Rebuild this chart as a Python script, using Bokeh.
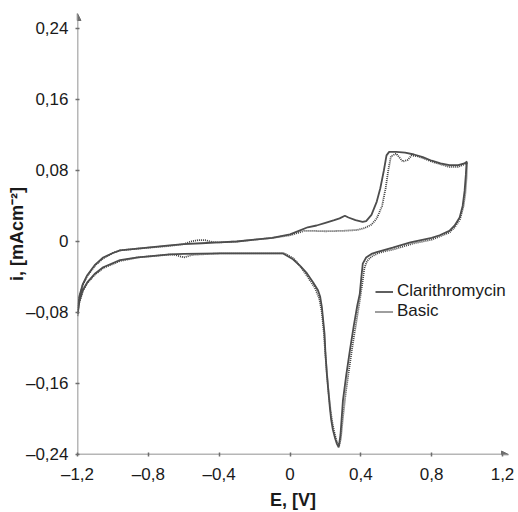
from bokeh.plotting import figure
from bokeh.models import (Range1d, FixedTicker, Arrow, NormalHead,
                          Legend, LegendItem)
from bokeh.embed import file_html
from bokeh.resources import INLINE

# ---------------- data ----------------
x_ticks = [-1.2, -0.8, -0.4, 0, 0.4, 0.8, 1.2]
x_tick_labels = ["–1,2", "–0,8", "–0,4", "0", "0,4", "0,8", "1,2"]
y_ticks = [-0.24, -0.16, -0.08, 0, 0.08, 0.16, 0.24]
y_tick_labels = ["–0,24", "–0,16", "–0,08", "0", "0,08", "0,16", "0,24"]

x_title = "E, [V]"
y_title = "i, [mAcm⁻²]"
series_names = ["Clarithromycin", "Basic"]

# Clarithromycin: anodic (forward) branch
clar_E_fwd = [-1.2, -1.19, -1.17, -1.145, -1.1, -1.055, -1.0, -0.96, -0.86, -0.68,
              -0.6, -0.5, -0.4, -0.3, -0.2, -0.1, 0.0, 0.05, 0.1, 0.15,
              0.2, 0.25, 0.28, 0.31, 0.33, 0.37, 0.41, 0.43, 0.46, 0.49,
              0.51, 0.53, 0.545, 0.56, 0.6, 0.65, 0.7, 0.75, 0.8, 0.85,
              0.9, 0.95, 0.985, 1.0]
clar_i_fwd = [-0.082, -0.062, -0.048, -0.038, -0.026, -0.018, -0.013, -0.010, -0.008, -0.0045,
              -0.003, -0.002, -0.001, 0.000, 0.002, 0.004, 0.008, 0.012, 0.016, 0.018,
              0.021, 0.024, 0.026, 0.029, 0.027, 0.024, 0.022, 0.023, 0.030, 0.045,
              0.060, 0.080, 0.097, 0.101, 0.101, 0.100, 0.098, 0.095, 0.091, 0.088,
              0.086, 0.086, 0.088, 0.090]
# Clarithromycin: cathodic (reverse) branch
clar_E_rev = [1.0, 0.997, 0.993, 0.986, 0.975, 0.958, 0.93, 0.9, 0.845, 0.8,
              0.68, 0.58, 0.49, 0.46, 0.43, 0.411, 0.403, 0.394, 0.38, 0.36,
              0.338, 0.318, 0.299, 0.285, 0.275, 0.265, 0.255, 0.242, 0.232, 0.225,
              0.215, 0.208, 0.2, 0.195, 0.186, 0.18, 0.17, 0.158, 0.13, 0.096,
              0.06, 0.017, -0.039, -0.2, -0.4, -0.6, -0.68, -0.86, -0.96, -1.055,
              -1.1, -1.145, -1.17, -1.19, -1.2]
clar_i_rev = [0.090, 0.089, 0.075, 0.057, 0.040, 0.027, 0.018, 0.012, 0.007, 0.004,
              -0.001, -0.007, -0.012, -0.014, -0.018, -0.025, -0.040, -0.059, -0.072, -0.095,
              -0.123, -0.150, -0.179, -0.218, -0.232, -0.228, -0.222, -0.212, -0.200, -0.187,
              -0.165, -0.149, -0.125, -0.104, -0.086, -0.074, -0.062, -0.055, -0.046, -0.036,
              -0.028, -0.020, -0.0135, -0.0135, -0.0135, -0.014, -0.0146, -0.018, -0.021, -0.029,
              -0.036, -0.046, -0.055, -0.068, -0.082]

# Basic: anodic (forward) branch
basic_E_fwd = [-1.2, -1.19, -1.17, -1.145, -1.1, -1.055, -1.0, -0.96, -0.86, -0.68,
               -0.6, -0.56, -0.52, -0.48, -0.44, -0.4, -0.3, -0.2, -0.1, 0.0,
               0.05, 0.08, 0.12, 0.2, 0.3, 0.38, 0.42, 0.46, 0.49, 0.52,
               0.54, 0.555, 0.57, 0.6, 0.637, 0.665, 0.687, 0.72, 0.75, 0.8,
               0.85, 0.9, 0.95, 0.985, 1.0]
basic_i_fwd = [-0.084, -0.064, -0.049, -0.039, -0.027, -0.019, -0.013, -0.010, -0.008, -0.005,
               -0.003, 0.000, 0.0015, 0.0015, -0.0005, -0.001, 0.000, 0.002, 0.004, 0.007,
               0.010, 0.012, 0.012, 0.0115, 0.012, 0.013, 0.015, 0.019, 0.026, 0.040,
               0.060, 0.080, 0.096, 0.099, 0.090, 0.092, 0.097, 0.096, 0.094, 0.090,
               0.087, 0.084, 0.084, 0.087, 0.089]
# Basic: cathodic (reverse) branch
basic_E_rev = [1.0, 0.997, 0.99, 0.98, 0.96, 0.93, 0.9, 0.85, 0.8, 0.7,
               0.6, 0.5, 0.46, 0.435, 0.42, 0.41, 0.395, 0.375, 0.355, 0.335,
               0.315, 0.298, 0.287, 0.278, 0.265, 0.25, 0.24, 0.23, 0.218, 0.21,
               0.2, 0.19, 0.18, 0.165, 0.14, 0.11, 0.08, 0.05, 0.02, -0.03,
               -0.2, -0.4, -0.55, -0.6, -0.65, -0.68, -0.86, -0.96, -1.055, -1.1,
               -1.145, -1.17, -1.19, -1.2]
basic_i_rev = [0.089, 0.072, 0.054, 0.040, 0.025, 0.016, 0.010, 0.006, 0.002, -0.002,
               -0.008, -0.013, -0.017, -0.022, -0.030, -0.045, -0.065, -0.090, -0.115, -0.142,
               -0.170, -0.200, -0.222, -0.230, -0.226, -0.215, -0.205, -0.192, -0.170, -0.152,
               -0.128, -0.100, -0.080, -0.064, -0.052, -0.043, -0.034, -0.026, -0.019, -0.0135,
               -0.0135, -0.0135, -0.015, -0.018, -0.015, -0.0148, -0.018, -0.022, -0.030, -0.037,
               -0.047, -0.056, -0.069, -0.084]

# ---------------- layout ----------------
W, H = 518, 512
FL, FR, FT, FB = 77, 508, 13, 455
XPP = 2.4 / 425.0      # volts per pixel
YPP = 0.48 / 427.0     # mA/cm2 per pixel
X0, Y0 = -1.2, -0.24
x_end = X0 + (FR - FL) * XPP
y_end = Y0 + (FB - FT) * YPP

FONT = "Liberation Sans"
AX = "#6e6e6e"
TXT = "#1a1a1a"

p = figure(width=W, height=H, output_backend="svg", toolbar_location=None,
           x_range=Range1d(X0, x_end), y_range=Range1d(Y0, y_end),
           min_border_left=FL, min_border_right=W - FR,
           min_border_top=FT, min_border_bottom=H - FB)
p.outline_line_color = None
p.grid.visible = False
p.background_fill_color = "white"
p.border_fill_color = "white"

for ax, ticks, labels in ((p.xaxis[0], x_ticks, x_tick_labels),
                          (p.yaxis[0], y_ticks, y_tick_labels)):
    ax.ticker = FixedTicker(ticks=ticks)
    ax.major_label_overrides = {t: l for t, l in zip(ticks, labels)}
    ax.axis_line_color = None
    ax.major_tick_line_color = AX
    ax.major_tick_line_width = 1.5
    ax.major_tick_in = 2
    ax.major_tick_out = 2
    ax.minor_tick_line_color = None
    ax.major_label_text_font = FONT
    ax.major_label_text_font_size = "17px"
    ax.major_label_text_color = TXT
    ax.axis_label_text_font = FONT
    ax.axis_label_text_font_size = "18px"
    ax.axis_label_text_font_style = "bold"
    ax.axis_label_text_color = TXT
p.xaxis[0].major_label_standoff = 8
p.yaxis[0].major_label_standoff = 7
p.xaxis[0].axis_label = x_title
p.yaxis[0].axis_label = y_title
p.xaxis[0].axis_label_standoff = 3
p.yaxis[0].axis_label_standoff = -4

# axis lines with arrowheads
p.add_layout(Arrow(end=NormalHead(size=7, line_color=AX, fill_color=AX, line_width=1),
                   x_start=X0, y_start=Y0, x_end=x_end, y_end=Y0,
                   line_color=AX, line_width=1.5))
p.add_layout(Arrow(end=NormalHead(size=7, line_color=AX, fill_color=AX, line_width=1),
                   x_start=X0, y_start=Y0, x_end=X0, y_end=y_end,
                   line_color=AX, line_width=1.5))

# curves
r_basic = p.line(basic_E_fwd + basic_E_rev[1:], basic_i_fwd + basic_i_rev[1:],
                 line_color="#3c3c3c", line_width=1.8, line_dash="1 1")
r_clar = p.line(clar_E_fwd + clar_E_rev[1:], clar_i_fwd + clar_i_rev[1:],
                line_color="#4d4d4d", line_width=1.8)

legend = Legend(items=[LegendItem(label=series_names[0], renderers=[r_clar]),
                       LegendItem(label=series_names[1], renderers=[r_basic])],
                location=(298, 133), border_line_color=None,
                background_fill_alpha=0, padding=0, margin=0, spacing=0,
                glyph_width=18, glyph_height=19, label_height=19,
                label_standoff=4, label_text_font=FONT,
                label_text_font_size="17px", label_text_color=TXT)
p.add_layout(legend)

open("out.html", "w").write(file_html(p, INLINE))
